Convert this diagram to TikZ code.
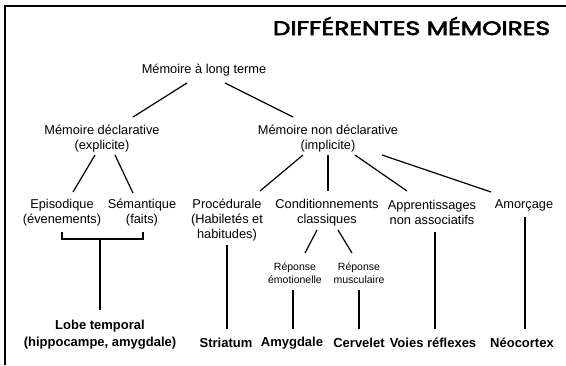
\documentclass[tikz,border=0pt]{standalone}
\usepackage{fontspec}
\setmainfont{Liberation Sans}
\newfontfamily\titlefont[FakeBold=3]{Poppins}
\usetikzlibrary{calc}
\tikzset{
  lbl/.style={inner sep=0pt, align=center, font=\fontsize{12.8}{15}\selectfont},
  smalllbl/.style={inner sep=0pt, align=center, font=\fontsize{10.5}{13}\selectfont},
  brain/.style={inner sep=0pt, align=center, font=\fontsize{13}{16.5}\selectfont\bfseries},
  link/.style={line width=1.2pt},
  frameline/.style={line width=2.5pt, line join=miter},
}
\begin{document}
\begin{tikzpicture}[x=1pt,y=-1pt]
\useasboundingbox (0,0) rectangle (566,365);
\draw[frameline] (5,365) -- (5,6) -- (566,6);
\node[anchor=base, inner sep=0pt] (title) at (411.5,35) {\resizebox{277pt}{18pt}{\titlefont DIFFÉRENTES MÉMOIRES}};

\node[lbl] (root) at (204,70) {Mémoire à long terme};
\node[lbl] (decl) at (102,138.5) {Mémoire déclarative\\(explicite)};
\node[lbl] (nondecl) at (328,138.5) {Mémoire non déclarative\\(implicite)};
\node[lbl] (epi) at (62,212.5) {Episodique\\(évenements)};
\node[lbl] (sem) at (142,212.5) {Sémantique\\(faits)};
\node[lbl] (proc) at (227,220) {Procédurale\\(Habiletés et\\habitudes)};
\node[lbl] (cond) at (327,212.5) {Conditionnements\\classiques};
\node[lbl] (appr) at (432,212.5) {Apprentissages\\non associatifs};
\node[lbl] (amor) at (524,205) {Amorçage};
\node[smalllbl] (remo) at (295,273.5) {Réponse\\émotionelle};
\node[smalllbl] (rmus) at (359,273.5) {Réponse\\musculaire};
\node[brain] (lobe) at (100,334.5) {Lobe temporal\\(hippocampe, amygdale)};
\node[brain] (stri) at (226,343) {Striatum};
\node[brain] (amyg) at (292,343) {Amygdale};
\node[brain] (cerv) at (359,343) {Cervelet};
\node[brain] (voies) at (433,343) {Voies réflexes};
\node[brain] (neo) at (522,343) {Néocortex};

\draw[link] ($(root)+(-17,13)$) -- ($(decl)+(31,-21.5)$);
\draw[link] ($(root)+(21,13)$) -- ($(nondecl)+(-35,-21.5)$);
\draw[link] ($(decl)+(-7,16.5)$) -- ($(epi)+(11,-20.5)$);
\draw[link] ($(decl)+(13,16.5)$) -- ($(sem)+(-9,-19.5)$);
\draw[link] ($(nondecl)+(-25,16.5)$) -- ($(proc)+(33,-29)$);
\draw[link] ($(nondecl)+(0,16.5)$) -- ($(cond)+(1,-21.5)$);
\draw[link] ($(nondecl)+(27,16.5)$) -- ($(appr)+(-25,-21.5)$);
\draw[link] ($(nondecl)+(54,16.5)$) -- ($(amor)+(-33,-13)$);
\coordinate (brk) at ($(lobe)+(0,-95.5)$);
\draw[link] ($(epi)+(0,19.5)$) |- ($(sem)+(1,26.5)$) -- ($(sem)+(1,19.5)$);
\draw[link] (brk) -- ($(lobe)+(0,-24.5)$);
\draw[link] ($(proc)+(0,25)$) -- ($(stri)+(1,-14)$);
\draw[link] ($(cond)+(-10,17.5)$) -- ($(remo)+(10,-20.5)$);
\draw[link] ($(cond)+(11,17.5)$) -- ($(rmus)+(-7,-20.5)$);
\draw[link] ($(remo)+(-2,16.5)$) -- ($(amyg)+(1,-14)$);
\draw[link] ($(rmus)+(0,16.5)$) -- ($(cerv)+(0,-14)$);
\draw[link] ($(appr)+(3,19.5)$) -- ($(voies)+(2,-14)$);
\draw[link] ($(amor)+(1,12)$) -- ($(neo)+(3,-14)$);
\end{tikzpicture}
\end{document}
